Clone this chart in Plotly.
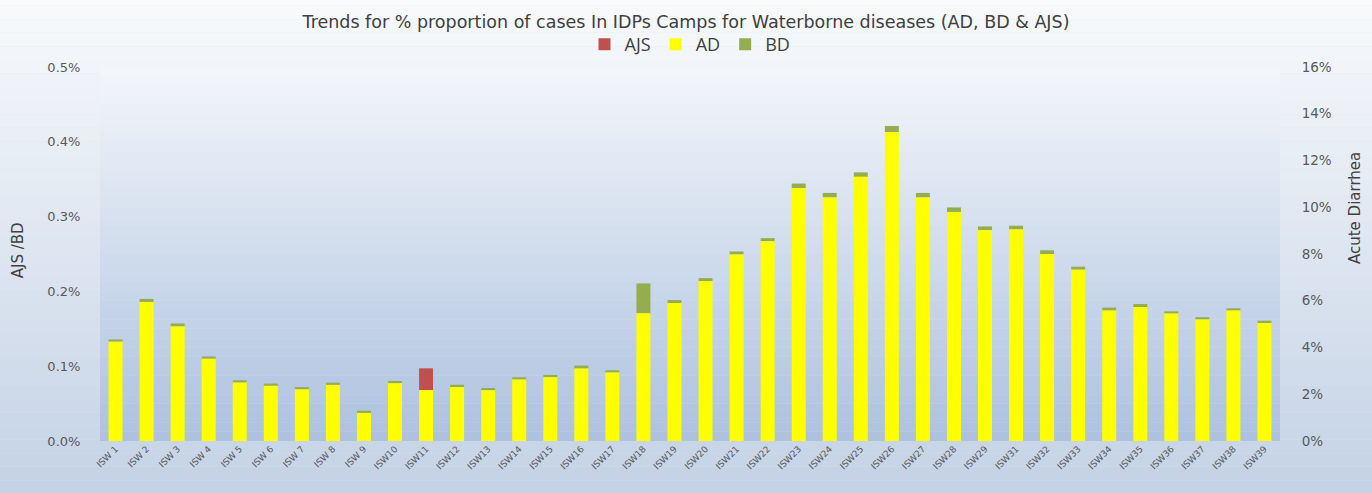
import numpy as np
import plotly.graph_objects as go

weeks = [f"ISW {i}" for i in range(1, 10)] + [f"ISW{i}" for i in range(10, 30)] + [f"ISW{i}" for i in range(31, 40)]

# Acute Diarrhea (right axis, fraction)
ad = [4.25, 5.95, 4.9, 3.52, 2.5, 2.36, 2.21, 2.4, 1.2, 2.47, 2.18, 2.31, 2.17, 2.63, 2.73, 3.1, 2.93,
      5.46, 5.9, 6.84, 7.98, 8.55, 10.82, 10.42, 11.3, 13.22, 10.42, 9.8, 9.02, 9.05, 8.0, 7.33,
      5.58, 5.73, 5.45, 5.2, 5.58, 5.05]
ad = [v / 100 for v in ad]

# Bloody Diarrhea (left axis, fraction)
bd = [0.003, 0.004, 0.004, 0.003, 0.003, 0.003, 0.003, 0.003, 0.003, 0.003, 0.0, 0.003, 0.003, 0.003,
      0.003, 0.004, 0.003, 0.040, 0.004, 0.004, 0.004, 0.004, 0.006, 0.006, 0.006, 0.008, 0.006, 0.006,
      0.005, 0.005, 0.005, 0.004, 0.004, 0.004, 0.003, 0.003, 0.003, 0.003]
bd = [v / 100 for v in bd]

# Acute Jaundice Syndrome (left axis, fraction)
ajs = [0.0] * 10 + [0.029] + [0.0] * 27
ajs = [v / 100 for v in ajs]

LEFT_MAX = 0.005
RIGHT_MAX = 0.16
ratio = LEFT_MAX / RIGHT_MAX

ad_a = np.array(ad)
bd_a = np.array(bd)

W = 0.45
fig = go.Figure()
fig.add_trace(go.Bar(x=weeks, y=ad, name="AD", yaxis="y2", width=W,
                     marker=dict(color="#ffff00", line=dict(width=0)), legendrank=2))
fig.add_trace(go.Bar(x=weeks, y=bd, base=ad_a * ratio, name="BD", yaxis="y", width=W,
                     marker=dict(color="#94ad4e", line=dict(width=0)), legendrank=3))
fig.add_trace(go.Bar(x=weeks, y=ajs, base=ad_a * ratio + bd_a, name="AJS", yaxis="y", width=W,
                     marker=dict(color="#c0504d", line=dict(width=0)), legendrank=1))

# gradient backgrounds
shapes = []
n = 40
def lerp(c1, c2, t):
    return "rgb(%d,%d,%d)" % tuple(int(round(a + (b - a) * t)) for a, b in zip(c1, c2))
top_p, bot_p = (248, 250, 252), (192, 207, 228)
for i in range(n):
    t = i / (n - 1)
    shapes.append(dict(type="rect", xref="paper", yref="paper", x0=-0.2, x1=1.2,
                       y0=1.2 - (i + 1) * 1.45 / n, y1=1.2 - i * 1.45 / n,
                       fillcolor=lerp(top_p, bot_p, t), line=dict(width=0), layer="below"))
top_a, bot_a = (242, 245, 250), (174, 194, 223)
for i in range(n):
    t = i / (n - 1)
    shapes.append(dict(type="rect", xref="x domain", yref="y domain", x0=0, x1=1,
                       y0=1 - (i + 1) / n, y1=1 - i / n,
                       fillcolor=lerp(top_a, bot_a, t), line=dict(width=0), layer="below"))

font = "DejaVu Sans, sans-serif"
fig.update_layout(
    width=1372, height=493,
    margin=dict(l=100, r=92, t=67, b=52),
    paper_bgcolor="rgb(220,228,239)",
    plot_bgcolor="rgba(0,0,0,0)",
    barmode="overlay",
    shapes=shapes,
    font=dict(family=font, color="#595959"),
    title=dict(text="Trends for % proportion of cases In IDPs Camps for Waterborne diseases (AD, BD & AJS)",
               x=0.5, xanchor="center", y=0.955, yanchor="middle",
               font=dict(size=17.5, color="#404040", family=font)),
    legend=dict(orientation="h", x=0.5, xanchor="center", y=1.06, yanchor="middle",
                font=dict(size=18, color="#404040", family="Open Sans, sans-serif"),
                bgcolor="rgba(0,0,0,0)", itemwidth=30, tracegroupgap=0),
    xaxis=dict(tickangle=-45, tickfont=dict(size=9, color="#595959"), showgrid=False,
               showline=False, ticks="", fixedrange=True),
    yaxis=dict(range=[0, LEFT_MAX], tickvals=[0, 0.001, 0.002, 0.003, 0.004, 0.005], tickformat=".1%",
               showgrid=False, zeroline=False, ticks="outside", ticklen=16, tickcolor="rgba(0,0,0,0)",
               tickfont=dict(size=13, color="#595959")),
    yaxis2=dict(range=[0, RIGHT_MAX], tickvals=[0, 0.02, 0.04, 0.06, 0.08, 0.10, 0.12, 0.14, 0.16],
                tickformat=".0%", overlaying="y", side="right", showgrid=False, zeroline=False,
                ticks="outside", ticklen=18, tickcolor="rgba(0,0,0,0)",
                tickfont=dict(size=13.5, color="#595959")),
    annotations=[
        dict(text="AJS /BD", xref="paper", yref="paper", x=-0.0695, y=0.51, xanchor="center",
             yanchor="middle", textangle=-90, showarrow=False, font=dict(size=15, color="#404040")),
        dict(text="Acute Diarrhea", xref="paper", yref="paper", x=1.0636, y=0.623, xanchor="center",
             yanchor="middle", textangle=-90, showarrow=False, font=dict(size=15, color="#404040")),
    ],
)

fig.write_html("out.html", config={"displayModeBar": False},
               post_script="document.body.style.margin='0';")
